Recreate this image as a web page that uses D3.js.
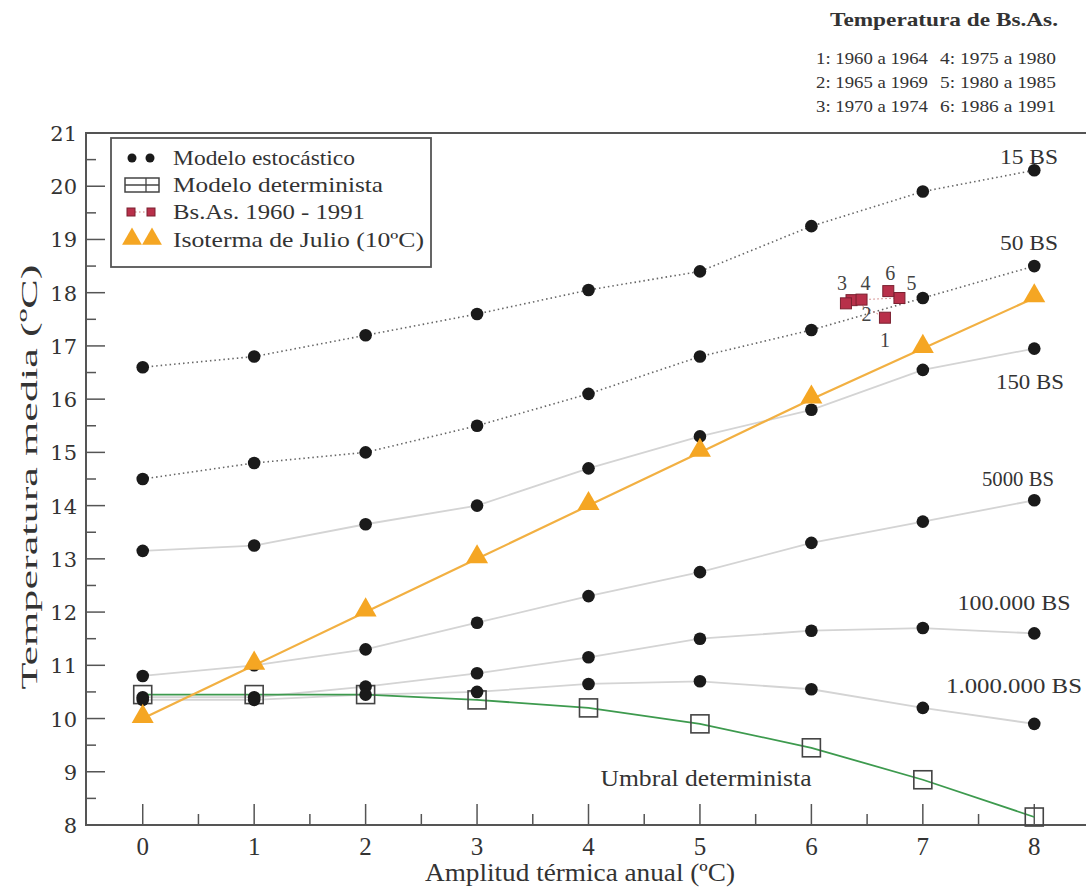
<!DOCTYPE html>
<html><head><meta charset="utf-8">
<script src="https://cdn.jsdelivr.net/npm/d3@7"></script>
<style>html,body{margin:0;padding:0;background:#fff}svg{display:block}</style>
</head><body>
<script>
const amplitudes = [0,1,2,3,4,5,6,7,8];
const seriesNames = ["15 BS","50 BS","150 BS","5000 BS","100.000 BS","1.000.000 BS"];
const s15 = [16.6,16.8,17.2,17.6,18.05,18.4,19.25,19.9,20.3];
const s50 = [14.5,14.8,15.0,15.5,16.1,16.8,17.3,17.9,18.5];
const s150 = [13.15,13.25,13.65,14.0,14.7,15.3,15.8,16.55,16.95];
const s5000 = [10.8,11.0,11.3,11.8,12.3,12.75,13.3,13.7,14.1];
const s100k = [10.4,10.4,10.6,10.85,11.15,11.5,11.65,11.7,11.6];
const s1m = [10.35,10.35,10.45,10.5,10.65,10.7,10.55,10.2,9.9];
const determinista = [10.45,10.45,10.45,10.35,10.2,9.9,9.45,8.85,8.15];
const isoterma = [10,11,12,13,14,15,16,16.95,17.9];
const bsasLabels = ["1","2","3","4","5","6"];
const bsasX = [6.66,6.36,6.31,6.45,6.79,6.69];
const bsasY = [17.53,17.86,17.8,17.87,17.9,18.03];
const yTicks = [8,9,10,11,12,13,14,15,16,17,18,19,20,21];
const xTicks = [0,1,2,3,4,5,6,7,8];
const periodLines = ["1: 1960 a 1964","2: 1965 a 1969","3: 1970 a 1974","4: 1975 a 1980","5: 1980 a 1985","6: 1986 a 1991"];

const W=1086,H=889;
const svg=d3.select("body").append("svg").attr("width",W).attr("height",H);
const x=d3.scaleLinear().domain([-0.5,8.5]).range([87,1090]);
const y=d3.scaleLinear().domain([8,21]).range([825,133]);
const serif="'Liberation Serif','Times New Roman',serif";
const frame="#555";
const txt="#333";

function stext(g,xp,yp,size,len,str,anchor){
  return g.append("text").attr("x",xp).attr("y",yp).attr("text-anchor",anchor||"start")
    .attr("font-family",serif).attr("font-size",size).attr("fill",txt)
    .attr("textLength",len).attr("lengthAdjust","spacingAndGlyphs").text(str);
}

// frame
svg.append("line").attr("x1",86).attr("x2",W).attr("y1",133).attr("y2",133).attr("stroke",frame).attr("stroke-width",2);
svg.append("line").attr("x1",86).attr("x2",86).attr("y1",132).attr("y2",826).attr("stroke",frame).attr("stroke-width",2);
svg.append("line").attr("x1",86).attr("x2",W).attr("y1",825).attr("y2",825).attr("stroke",frame).attr("stroke-width",2);

// y ticks
const yMinor=d3.range(8.5,21,1);
svg.append("g").selectAll("line").data(yTicks).join("line").attr("x1",86).attr("x2",105).attr("y1",d=>y(d)).attr("y2",d=>y(d)).attr("stroke",frame).attr("stroke-width",1.5);
svg.append("g").selectAll("line").data(yMinor).join("line").attr("x1",86).attr("x2",96).attr("y1",d=>y(d)).attr("y2",d=>y(d)).attr("stroke",frame).attr("stroke-width",1.5);
svg.append("g").selectAll("text").data(yTicks).join("text").attr("x",77).attr("y",d=>y(d)+8).attr("text-anchor","end")
  .attr("font-family","'DejaVu Serif',serif").attr("font-size",21).attr("fill",txt).text(d=>d);

// x ticks
const xMinor=d3.range(0.5,8.5,1);
svg.append("g").selectAll("line").data(xTicks).join("line").attr("x1",d=>x(d)).attr("x2",d=>x(d)).attr("y1",825).attr("y2",804).attr("stroke",frame).attr("stroke-width",1.5);
svg.append("g").selectAll("line").data(xMinor).join("line").attr("x1",d=>x(d)).attr("x2",d=>x(d)).attr("y1",825).attr("y2",814).attr("stroke",frame).attr("stroke-width",1.5);
svg.append("g").selectAll("text").data(xTicks).join("text").attr("x",d=>x(d)).attr("y",855).attr("text-anchor","middle")
  .attr("font-family",serif).attr("font-size",25).attr("fill",txt).text(d=>d);

// axis titles
stext(svg,580,881,25,310,"Amplitud térmica anual  (ºC)","middle");
svg.append("text").attr("transform","translate(37,477) rotate(-90)").attr("text-anchor","middle")
  .attr("font-family",serif).attr("font-size",24).attr("fill",txt)
  .attr("textLength",425).attr("lengthAdjust","spacingAndGlyphs").text("Temperatura media (ºC)");

const line=d3.line().x((d,i)=>x(amplitudes[i])).y(d=>y(d));
const allSeries=[s15,s50,s150,s5000,s100k,s1m];
allSeries.forEach((s,k)=>{
  const p=svg.append("path").attr("d",line(s)).attr("fill","none");
  if(k<2) p.attr("stroke","#666").attr("stroke-width",1.6).attr("stroke-dasharray","1.5,3");
  else p.attr("stroke","#d4d4d4").attr("stroke-width",1.8);
});

// deterministic
svg.append("path").attr("d",line(determinista)).attr("fill","none").attr("stroke","#3d9a4e").attr("stroke-width",1.8);
svg.append("g").selectAll("rect").data(determinista).join("rect")
  .attr("x",(d,i)=>x(amplitudes[i])-9).attr("y",d=>y(d)-9).attr("width",18).attr("height",18)
  .attr("fill","none").attr("stroke","#444").attr("stroke-width",1.6);

// isoterma line
svg.append("path").attr("d",line(isoterma)).attr("fill","none").attr("stroke","#f2b042").attr("stroke-width",2.2);

// stochastic dots
allSeries.forEach(s=>{
  svg.append("g").selectAll("circle").data(s).join("circle")
    .attr("cx",(d,i)=>x(amplitudes[i])).attr("cy",d=>y(d)).attr("r",6.3).attr("fill","#1a1a1a");
});

// triangles
const tri=d3.symbol().type(d3.symbolTriangle).size(210);
svg.append("g").selectAll("path").data(isoterma).join("path")
  .attr("d",tri).attr("transform",(d,i)=>`translate(${x(amplitudes[i])},${y(d)-2})`).attr("fill","#f5a623");

// Bs.As.
const bs=bsasX.map((v,i)=>[v,bsasY[i]]);
svg.append("path").attr("d",d3.line().x(d=>x(d[0])).y(d=>y(d[1]))(bs)).attr("fill","none").attr("stroke","#c77").attr("stroke-width",1).attr("stroke-dasharray","1.5,2.5");
svg.append("g").selectAll("rect").data(bs).join("rect")
  .attr("x",d=>x(d[0])-5.5).attr("y",d=>y(d[1])-5.5).attr("width",11).attr("height",11)
  .attr("fill","#b8304a").attr("stroke","#7a2030").attr("stroke-width",1);
const lblOff=[[0,22],[15,14],[-4,-20],[4,-17],[12,-15],[2,-18]];
svg.append("g").selectAll("text").data(bs).join("text")
  .attr("x",(d,i)=>x(d[0])+lblOff[i][0]).attr("y",(d,i)=>y(d[1])+lblOff[i][1]+7).attr("text-anchor","middle")
  .attr("font-family",serif).attr("font-size",20).attr("fill","#444").text((d,i)=>bsasLabels[i]);

// series labels
const labPos=[[1029,156],[1029,242],[1030,381],[1018,478],[1014,602],[1014,685]];
const labLen=[58,58,68,72,113,136];
seriesNames.forEach((n,i)=>stext(svg,labPos[i][0],labPos[i][1]+8,22,labLen[i],n,"middle"));
stext(svg,706,786,23,211,"Umbral determinista","middle");

// legend
const lg=svg.append("g");
lg.append("rect").attr("x",111).attr("y",138).attr("width",320).attr("height",129).attr("fill","#fff").attr("stroke","#555").attr("stroke-width",1.8);
const lgY=[158,185,212,240];
const lgText=["Modelo estocástico","Modelo determinista","Bs.As. 1960 - 1991","Isoterma de Julio (10ºC)"];
const lgLen=[182,210,192,251];
lgText.forEach((t,i)=>stext(lg,173,lgY[i]+7,22,lgLen[i],t));
[132,150].forEach(cx=>lg.append("circle").attr("cx",cx).attr("cy",lgY[0]).attr("r",4.5).attr("fill","#1a1a1a"));
lg.append("line").attr("x1",125).attr("x2",159).attr("y1",lgY[1]).attr("y2",lgY[1]).attr("stroke","#444").attr("stroke-width",1.3);
lg.append("rect").attr("x",125).attr("y",lgY[1]-7).attr("width",34).attr("height",14).attr("fill","none").attr("stroke","#444").attr("stroke-width",1.5);
lg.append("line").attr("x1",146).attr("x2",146).attr("y1",lgY[1]-7).attr("y2",lgY[1]+7).attr("stroke","#444").attr("stroke-width",1.3);
lg.append("line").attr("x1",131).attr("x2",152).attr("y1",lgY[2]).attr("y2",lgY[2]).attr("stroke","#c77").attr("stroke-dasharray","1.5,2.5");
[131,151].forEach(cx=>lg.append("rect").attr("x",cx-4).attr("y",lgY[2]-4).attr("width",8).attr("height",8).attr("fill","#b8304a").attr("stroke","#7a2030"));
const triL=d3.symbol().type(d3.symbolTriangle).size(170);
[132,152].forEach(cx=>lg.append("path").attr("d",triL).attr("transform",`translate(${cx},${lgY[3]-1})`).attr("fill","#f5a623"));

// annotation top right
svg.append("text").attr("x",944).attr("y",26).attr("text-anchor","middle").attr("font-family",serif).attr("font-weight","bold")
  .attr("font-size",19).attr("fill",txt).attr("textLength",228).attr("lengthAdjust","spacingAndGlyphs").text("Temperatura de Bs.As.");
periodLines.forEach((t,i)=>{
  stext(svg,i<3?816:940,64+(i%3)*24,16,i<3?112:116,t);
});
</script>
</body></html>
